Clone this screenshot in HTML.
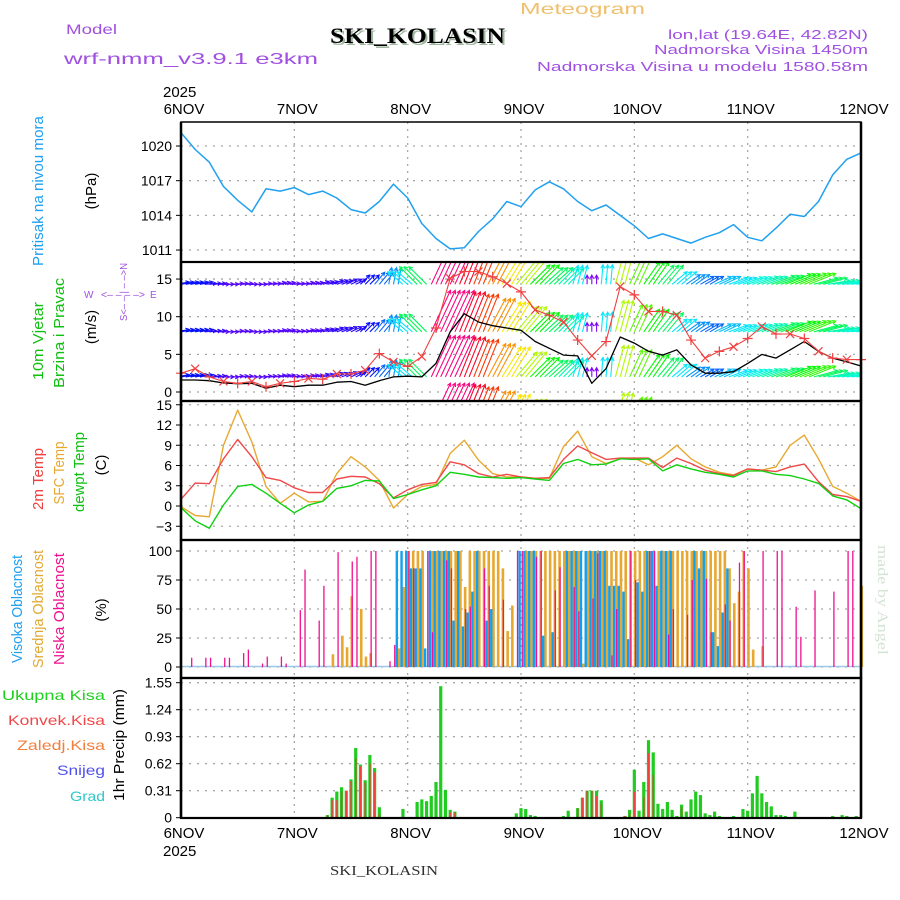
<!DOCTYPE html>
<html><head><meta charset="utf-8"><style>
html,body{margin:0;padding:0;background:#fff;}
svg{display:block;font-family:"Liberation Sans",sans-serif;}
</style></head><body>
<svg id="chart" width="900" height="900" viewBox="0 0 900 900" xmlns="http://www.w3.org/2000/svg">
<defs>
<clipPath id="clipWind"><rect x="181" y="262" width="680" height="139"/></clipPath>
</defs>
<rect width="900" height="900" fill="#fff"/>
<text x="520" y="14" font-size="16" fill="#f0c070" textLength="125" lengthAdjust="spacingAndGlyphs">Meteogram</text>
<text x="66" y="34" font-size="14" fill="#a050e0" textLength="51" lengthAdjust="spacingAndGlyphs">Model</text>
<text x="64" y="64" font-size="16" fill="#a050e0" textLength="254" lengthAdjust="spacingAndGlyphs">wrf-nmm_v3.9.1 e3km</text>
<text x="332" y="45" font-family="Liberation Serif,serif" font-weight="bold" font-size="22" fill="#a0b8a0" textLength="175" lengthAdjust="spacingAndGlyphs">SKI_KOLASIN</text>
<text x="330" y="43" font-family="Liberation Serif,serif" font-weight="bold" font-size="22" fill="#000" textLength="175" lengthAdjust="spacingAndGlyphs">SKI_KOLASIN</text>
<text x="868" y="39" font-size="13" fill="#a050e0" text-anchor="end" textLength="200" lengthAdjust="spacingAndGlyphs">lon,lat (19.64E, 42.82N)</text>
<text x="868" y="54" font-size="13" fill="#a050e0" text-anchor="end" textLength="214" lengthAdjust="spacingAndGlyphs">Nadmorska Visina 1450m</text>
<text x="868" y="71" font-size="13" fill="#a050e0" text-anchor="end" textLength="331" lengthAdjust="spacingAndGlyphs">Nadmorska Visina u modelu 1580.58m</text>
<text x="163" y="97" font-size="15" fill="#000">2025</text>
<text x="163" y="856" font-size="15" fill="#000">2025</text>
<text x="330" y="875" font-family="Liberation Serif,serif" font-size="14" fill="#303030" textLength="108" lengthAdjust="spacingAndGlyphs">SKI_KOLASIN</text>
<text transform="translate(878,545) rotate(90)" font-family="Liberation Serif,serif" font-size="15" fill="#d4e4d4" textLength="110" lengthAdjust="spacingAndGlyphs">made by Angel</text>

<g font-size="15">
<text transform="translate(43,191) rotate(-90)" text-anchor="middle" fill="#20a0f0" textLength="150" lengthAdjust="spacingAndGlyphs">Pritisak na nivou mora</text>
<text transform="translate(96,191) rotate(-90)" text-anchor="middle" fill="#000">(hPa)</text>
<text transform="translate(43,341) rotate(-90)" text-anchor="middle" fill="#10c010" textLength="78" lengthAdjust="spacingAndGlyphs">10m Vjetar</text>
<text transform="translate(64,333) rotate(-90)" text-anchor="middle" fill="#10c010" textLength="110" lengthAdjust="spacingAndGlyphs">Brzina i Pravac</text>
<text transform="translate(96,327) rotate(-90)" text-anchor="middle" fill="#000">(m/s)</text>
<text transform="translate(43,479) rotate(-90)" text-anchor="middle" fill="#f04040" textLength="62" lengthAdjust="spacingAndGlyphs">2m Temp</text>
<text transform="translate(64,473) rotate(-90)" text-anchor="middle" fill="#e8a830" textLength="63" lengthAdjust="spacingAndGlyphs">SFC Temp</text>
<text transform="translate(84,472) rotate(-90)" text-anchor="middle" fill="#10c010" textLength="80" lengthAdjust="spacingAndGlyphs">dewpt Temp</text>
<text transform="translate(106,465) rotate(-90)" text-anchor="middle" fill="#000">(C)</text>
<text transform="translate(22,609) rotate(-90)" text-anchor="middle" fill="#20a0f0" textLength="108" lengthAdjust="spacingAndGlyphs">Visoka Oblacnost</text>
<text transform="translate(43,609) rotate(-90)" text-anchor="middle" fill="#e0a830" textLength="118" lengthAdjust="spacingAndGlyphs">Srednja Oblacnost</text>
<text transform="translate(64,609) rotate(-90)" text-anchor="middle" fill="#f01090" textLength="112" lengthAdjust="spacingAndGlyphs">Niska Oblacnost</text>
<text transform="translate(106,610) rotate(-90)" text-anchor="middle" fill="#000">(%)</text>
<text transform="translate(124,745) rotate(-90)" text-anchor="middle" fill="#000" textLength="112" lengthAdjust="spacingAndGlyphs">1hr Precip (mm)</text>
</g>
<g font-size="14">
<text x="105" y="700" text-anchor="end" fill="#20d020" textLength="103" lengthAdjust="spacingAndGlyphs">Ukupna  Kisa</text>
<text x="105" y="725" text-anchor="end" fill="#f04848" textLength="97" lengthAdjust="spacingAndGlyphs">Konvek.Kisa</text>
<text x="105" y="750" text-anchor="end" fill="#f08040" textLength="88" lengthAdjust="spacingAndGlyphs">Zaledj.Kisa</text>
<text x="105" y="775" text-anchor="end" fill="#5050f0" textLength="48" lengthAdjust="spacingAndGlyphs">Snijeg</text>
<text x="105" y="801" text-anchor="end" fill="#30c8c8" textLength="35" lengthAdjust="spacingAndGlyphs">Grad</text>
</g>
<g fill="#a050e0" font-size="10">
<text x="84" y="298">W</text>
<text x="101" y="298" textLength="44" lengthAdjust="spacingAndGlyphs">&lt;– –   – –&gt;</text>
<text x="150" y="298">E</text>
<text transform="translate(127,321) rotate(-90)" textLength="58" lengthAdjust="spacingAndGlyphs">S&lt;– – | – –&gt;N</text>
</g>
<g id="layer"></g>
</svg>
<script>
// ---- data (hours from 6NOV 00Z) ----
const hours3 = [0,3,6,9,12,15,18,21,24,27,30,33,36,39,42,45,48,51,54,57,60,63,66,69,72,75,78,81,84,87,90,93,96,99,102,105,108,111,114,117,120,123,126,129,132,135,138,141,144];
const dayLabels = ["6NOV","7NOV","8NOV","9NOV","10NOV","11NOV","12NOV"];
const pressure = [1021.15,1019.7,1018.6,1016.5,1015.3,1014.3,1016.3,1016.1,1016.4,1015.8,1016.1,1015.5,1014.5,1014.2,1015.2,1016.7,1015.5,1013.3,1012.0,1011.1,1011.2,1012.6,1013.7,1015.2,1014.75,1016.2,1016.9,1016.3,1015.2,1014.4,1014.9,1014.0,1013.1,1012.0,1012.4,1012.0,1011.6,1012.1,1012.5,1013.2,1012.1,1011.8,1012.9,1014.1,1013.9,1015.2,1017.5,1018.85,1019.4];
const pressureTicks = [1020,1017,1014,1011];
const windSpeed = [1.6,1.6,1.5,1.2,1.1,1.15,0.5,0.9,0.7,0.9,0.9,1.3,1.4,0.9,1.5,2.0,2.1,2.0,3.8,8.0,10.4,9.3,8.8,8.5,8.2,6.7,5.8,4.9,4.8,1.15,3.1,7.3,6.5,5.4,4.9,5.6,3.6,2.5,2.5,2.7,3.8,5.0,4.5,5.6,6.7,5.4,4.5,4.0,3.45];
const windGust = [2.5,3.1,2.0,1.4,1.15,1.4,0.7,1.15,1.4,1.8,1.7,2.4,2.4,2.9,5.1,4.0,3.4,4.7,8.5,15.1,16.0,16.0,15.3,14.4,13.3,10.9,10.2,9.3,6.9,4.8,6.7,14.0,12.9,10.7,10.7,10.2,6.9,4.5,5.4,6.0,7.1,8.7,7.7,7.7,7.1,5.4,4.5,4.3,4.3];
const arrowSpeed = [3.5,3.5,3,2.5,2.5,2.5,2.5,2.5,2.5,2.5,2.8,3,3,3.5,4.5,5,6,8,16,16,15,14,13,12,11,9,8,7,6,2,6,11,10,9,8,6,5,4.5,5.5,6,6.5,7,8,9,9.5,8,7,6.5,6.5];
const arrowDir = [10,10,5,0,5,0,5,10,5,10,15,20,25,45,50,80,140,135,65,65,68,68,62,58,50,45,42,45,75,90,85,75,65,55,50,40,35,30,25,20,20,20,20,22,22,15,10,8,8];
const windTicks = [0,5,10,15];
const temp2m = [1.0,3.4,3.3,7.0,9.85,7.3,4.2,3.8,2.7,2.0,2.0,4.0,4.4,4.3,3.3,1.2,2.4,3.2,3.5,6.55,6.1,4.8,4.3,4.7,4.3,4.1,4.2,6.9,8.9,7.9,6.9,7.1,7.1,7.1,5.7,7.1,6.3,5.3,4.8,4.5,5.5,5.3,5.1,5.8,6.2,3.6,1.7,1.4,0.7];
const tempSfc = [-0.1,-1.4,-1.6,9.0,14.2,9.5,2.9,0.4,1.9,0.6,0.7,4.8,7.3,5.8,3.8,-0.3,1.7,2.9,3.2,7.8,9.75,6.8,4.8,4.3,4.3,4.1,4.1,8.8,11.1,7.3,6.3,7.0,7.1,6.1,7.3,9.0,7.0,5.8,5.0,4.6,5.5,5.3,5.8,9.0,10.5,7.0,2.9,1.9,0.7];
const tempDew = [-0.25,-2.2,-3.3,0.15,2.9,3.2,1.9,0.4,-1.0,0.15,0.7,2.6,3.0,3.8,3.7,1.1,1.7,2.4,3.0,5.0,4.7,4.3,4.2,4.1,4.2,4.0,3.8,6.3,6.9,6.1,6.2,7.0,6.9,7.0,5.2,6.1,5.5,5.0,4.7,4.3,5.2,5.2,4.7,4.5,4.0,3.35,1.5,0.9,-0.4];
const tempTicks = [-3,0,3,6,9,12,15];
const cloudHighHours = [46,47,48,49,50,51,52,53,54,55,56,57,58,59,60,61,62,63,65,66,72,73,74,75,77,79,82,83,84,85,86,87,88,89,90,91,92,93,94,95,97,98,99,100,101,102,103,104,109,110,111,113,114,115,116];
const cloudHighVals  = [100,100,100,85,85,85,16,100,100,100,100,100,40,100,35,47,65,100,40,50,100,100,100,100,27,30,100,100,100,100,100,100,100,100,100,70,70,70,65,24,73,65,100,100,70,100,100,100,100,85,100,30,18,47,85];
const cloudMidHours = [32,34,35,36,38,39,40,46,47,48,49,50,51,53,54,55,56,57,58,59,60,61,62,63,64,65,66,67,68,69,70,73,74,75,76,77,78,79,80,81,82,83,84,85,86,87,88,89,90,91,92,93,94,95,96,97,98,99,100,101,102,103,104,105,106,107,108,109,110,111,112,113,114,115,116,117,118,119,120,121,123,144];
const cloudMidVals  = [11,27,17,61,50,9,12,16,69,100,100,100,100,100,100,100,100,100,100,100,69,100,100,100,100,100,100,100,85,31,53,100,100,100,100,100,100,100,100,100,100,100,100,3,100,100,100,100,100,100,100,100,100,100,100,100,100,100,100,100,100,100,100,100,100,100,100,100,100,100,100,100,100,100,85,55,65,100,85,15,18,70];
const cloudLowHours = [2,5,6,9,10,13,14,17,18,21,22,25,26,29,30,33,36,37,40,41,44,45,48,49,52,53,56,57,60,61,64,65,68,71,72,75,76,79,80,83,84,87,88,91,92,95,96,99,100,103,104,107,108,111,112,115,116,118,119,123,126,127,130,131,134,138,141,142];
const cloudLowVals  = [8,8,8,8,8,12,15,3,9,9,3,49,84,40,70,99,91,95,100,100,5,19,100,85,100,30,92,85,50,52,85,70,58,100,100,95,100,66,86,69,48,59,98,10,50,100,75,100,100,28,50,45,75,76,30,54,40,90,100,100,100,100,52,26,66,65,100,100];
const cloudTicks = [0,25,50,75,100];
const precipHours = [31,32,33,34,35,36,37,38,39,40,41,42,47,50,51,52,53,54,55,56,57,58,71,72,73,74,75,81,82,84,85,86,87,88,89,94,95,96,97,98,99,100,101,102,103,104,105,106,107,108,109,110,111,112,113,114,117,119,120,121,122,123,124,125,126,127,128,130,138,140,141,143];
const precipTotal = [0.03,0.23,0.30,0.35,0.31,0.44,0.80,0.61,0.43,0.72,0.57,0.12,0.10,0.18,0.21,0.19,0.25,0.41,1.51,0.32,0.09,0.07,0.05,0.11,0.10,0.03,0.02,0.02,0.08,0.11,0.23,0.31,0.31,0.31,0.20,0.02,0.09,0.55,0.08,0.41,0.89,0.75,0.16,0.10,0.18,0.09,0.02,0.15,0.07,0.21,0.30,0.26,0.05,0.03,0.07,0.02,0.02,0.10,0.08,0.28,0.48,0.28,0.18,0.13,0.03,0.03,0.02,0.07,0.02,0.03,0.02,0.02];
const precipConv  = [0.03,0.2,0.2,0.3,0.31,0.42,0.68,0.59,0.40,0.62,0.52,0.04,0,0,0,0,0,0.01,0,0,0.06,0.06,0,0,0,0,0,0,0,0.11,0.23,0.31,0.31,0.25,0.16,0.02,0.05,0.3,0,0.24,0.74,0.49,0,0,0,0,0,0.12,0,0,0,0,0,0,0,0,0,0,0,0,0,0.01,0,0,0,0,0,0,0,0,0,0];
const precipTicks = ["0","0.31","0.62","0.93","1.24","1.55"];

// ---- axes ----
const X0 = 181, X1 = 861;
function xh(h){ return X0 + h*(X1-X0)/144; }
function yP(p){ return 146 + (1020-p)*11.56; }
function yW(v){ return 392 - v*7.53; }
function yT(t){ return 506 - t*6.75; }
function yC(c){ return 667 - c*1.16; }
function yR(r){ return 817.7 - r*87.1; }

const NS = "http://www.w3.org/2000/svg";
const layer = document.getElementById('layer');
function mk(tag, attrs, parent){
  const e = document.createElementNS(NS, tag);
  for (const k in attrs) e.setAttribute(k, attrs[k]);
  (parent||layer).appendChild(e);
  return e;
}
const panels = [[122,262],[262,401],[401,540],[540,678],[678,818]];

// grid
function hgrid(y){ const l = mk('line',{x1:X0,x2:X1,y1:y,y2:y,stroke:'#a8a8a8','stroke-width':1.3,'stroke-dasharray':'2,6'});

 }
for (let d=1; d<6; d++){
  for (const p of panels){
    const l = mk('line',{x1:xh(d*24),x2:xh(d*24),y1:p[0],y2:p[1],stroke:'#a8a8a8','stroke-width':1.3,'stroke-dasharray':'2,5'});
    
    
  }
}
pressureTicks.forEach(v=>hgrid(yP(v)));
windTicks.forEach(v=>hgrid(yW(v)));
tempTicks.forEach(v=>hgrid(yT(v)));
cloudTicks.forEach(v=>hgrid(yC(v)));
precipTicks.forEach(v=>hgrid(yR(+v)));

function ytick(y, label){
  const t = mk('text',{x:172,y:y+5,'text-anchor':'end','font-size':14,fill:'#000'});
  t.textContent = label;
  
  
  mk('line',{x1:176,x2:181,y1:y,y2:y,stroke:'#000','stroke-width':1});
}
pressureTicks.forEach(v=>ytick(yP(v), String(v)));
windTicks.forEach(v=>ytick(yW(v), String(v)));
tempTicks.forEach(v=>ytick(yT(v), v<0 ? '\u2212'+Math.abs(v) : String(v)));
cloudTicks.forEach(v=>ytick(yC(v), String(v)));
precipTicks.forEach(v=>ytick(yR(+v), v));

dayLabels.forEach((d,i)=>{
  const cx = xh(i*24) + 3;
  const t1 = mk('text',{x:cx,y:114,'text-anchor':'middle','font-size':15,fill:'#000'});
  t1.textContent = d;
  
  
  const t2 = mk('text',{x:cx,y:838,'text-anchor':'middle','font-size':15,fill:'#000'});
  t2.textContent = d;
  
  
});

function poly(xs, ys, color, w, name, parent){
  const pts = xs.map((h,i)=>xh(h).toFixed(1)+','+ys[i].toFixed(1)).join(' ');
  const p = mk('polyline',{points:pts,fill:'none',stroke:color,'stroke-width':w,'stroke-linejoin':'round'}, parent);
  
  
  return p;
}

// pressure
poly(hours3, pressure.map(yP), '#20a0f0', 1.5, 'pressure-line');

// wind arrows
const windG = mk('g',{'clip-path':'url(#clipWind)'});
function speedColor(s){ const hue = 270 - (s-2)/14*300; return 'hsl('+((hue+360)%360)+',95%,50%)'; }
const rowBase = [-4.3, 2.0, 8.0, 14.3];
hours3.forEach((h,i)=>{
  const s = arrowSpeed[i], a = arrowDir[i]*Math.PI/180, L = s*2.6 + 4;
  const col = speedColor(s);
  for (let k=-1; k<=1; k++){
    for (const rb of rowBase){
      const x0 = xh(h+k), y0 = yW(rb);
      const x1 = x0 + L*Math.cos(a), y1 = y0 - L*Math.sin(a);
      const ar = mk('path',{d:'M'+x0.toFixed(1)+','+y0.toFixed(1)+'L'+x1.toFixed(1)+','+y1.toFixed(1)+
        'M'+(x1-4*Math.cos(a-0.5)).toFixed(1)+','+(y1+4*Math.sin(a-0.5)).toFixed(1)+'L'+x1.toFixed(1)+','+y1.toFixed(1)+
        'L'+(x1-4*Math.cos(a+0.5)).toFixed(1)+','+(y1+4*Math.sin(a+0.5)).toFixed(1),
        fill:'none',stroke:col,'stroke-width':1.1}, windG);
      
      
    }
  }
});
poly(hours3, windSpeed.map(yW), '#000', 1.3, 'wind-speed-line');
poly(hours3, windGust.map(yW), '#f04040', 1.1, 'wind-gust-line');
hours3.forEach((h,i)=>{
  const x = xh(h), y = yW(windGust[i]);
  const m = mk('path',{d:(i%2?'M'+(x-4)+','+(y-4)+'L'+(x+4)+','+(y+4)+'M'+(x-4)+','+(y+4)+'L'+(x+4)+','+(y-4)
      :'M'+(x-5)+','+y+'L'+(x+5)+','+y+'M'+x+','+(y-5)+'L'+x+','+(y+5)),stroke:'#f04040','stroke-width':1.2,fill:'none'});
  
  
});

// temperature
poly(hours3, tempSfc.map(yT), '#e8a830', 1.4, 'sfc-temp-line');
poly(hours3, temp2m.map(yT), '#f04848', 1.4, 'temp-2m-line');
poly(hours3, tempDew.map(yT), '#10d010', 1.4, 'dewpoint-line');

// clouds
const zl = mk('line',{x1:X0,x2:X1,y1:666.5,y2:666.5,stroke:'#9cc8e8','stroke-width':1.5});


cloudMidHours.forEach((h,i)=>{
  const r = mk('rect',{x:xh(h)-0.5,y:yC(cloudMidVals[i]),width:2.6,height:667-yC(cloudMidVals[i]),fill:'#e8a830'});
  
  
});
cloudHighHours.forEach((h,i)=>{
  const r = mk('rect',{x:xh(h)-2.6,y:yC(cloudHighVals[i]),width:2.4,height:667-yC(cloudHighVals[i]),fill:'#10a0f0'});
  
  
});
cloudLowHours.forEach((h,i)=>{
  const r = mk('rect',{x:xh(h)+0.6,y:yC(cloudLowVals[i]),width:1.3,height:667-yC(cloudLowVals[i]),fill:'#f01090'});
  
  
});

// precipitation
precipHours.forEach((h,i)=>{
  const g = mk('rect',{x:xh(h)-1.6,y:yR(precipTotal[i]),width:3.2,height:817.7-yR(precipTotal[i]),fill:'#20cc20'});
  
  
  if (precipConv[i] > 0){
    const c = mk('rect',{x:xh(h)-0.7,y:yR(precipConv[i]),width:1.4,height:817.7-yR(precipConv[i]),fill:'#f04040'});
    
    
  }
});

// frames
panels.forEach((p,i)=>{
  const r = mk('rect',{x:X0,y:p[0],width:X1-X0,height:p[1]-p[0],fill:'none',stroke:'#000','stroke-width':i===0?1.5:2.2});
  
  
});
const lb = mk('line',{x1:X0,x2:X0,y1:122,y2:818,stroke:'#000','stroke-width':2.5});


const rb2 = mk('line',{x1:X1,x2:X1,y1:122,y2:818,stroke:'#000','stroke-width':2.5});


</script>
</body></html>
